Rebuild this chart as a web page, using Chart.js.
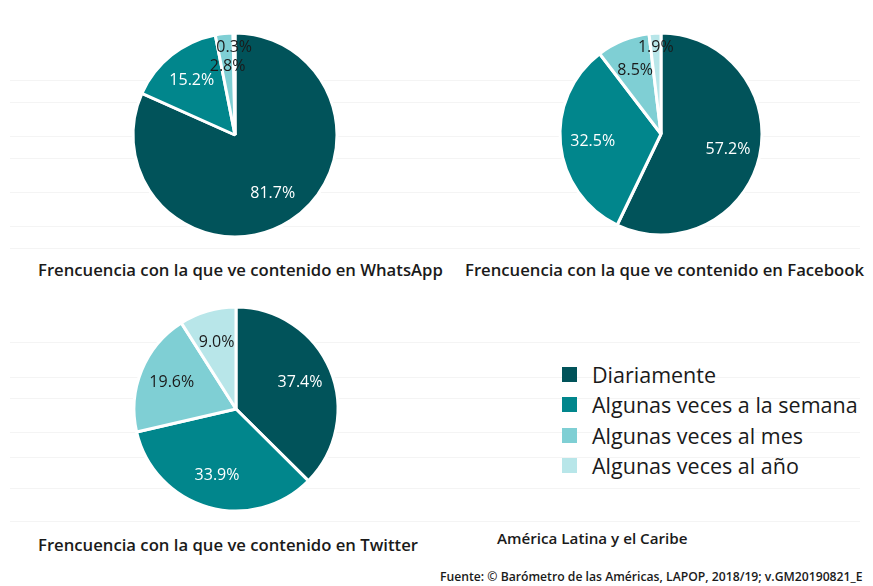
<!DOCTYPE html>
<html>
<head>
<meta charset="utf-8">
<script src="https://cdn.jsdelivr.net/npm/chart.js@4.4.1/dist/chart.umd.min.js"></script>
<style>
    body { margin:0; width:873px; height:586px; background:#fff; position:relative; overflow:hidden; font-family:"Open Sans", sans-serif; color:#1a1a1a; }
    .linea { position:absolute; left:10px; width:850px; height:1px; background:#f4f4f4; }
    .grafico { position:absolute; width:240px; height:240px; }
    .testo { position:absolute; white-space:nowrap; font-weight:600; }
    .didascalia { font-size:16.7px; line-height:20px; }
    #legenda { position:absolute; left:562px; top:359px; }
    .voce { height:30.5px; display:flex; align-items:center; font-size:21.5px; font-weight:500; }
    .quadrato { width:15px; height:15px; margin-right:15px; }
</style>
</head>
<body>
<div id="linee"></div>

<div class="grafico" style="left:115px; top:15px;"><canvas id="canvasWa" width="240" height="240"></canvas></div>
<div class="grafico" style="left:541px; top:14px;"><canvas id="canvasFb" width="240" height="240"></canvas></div>
<div class="grafico" style="left:116px; top:289px;"><canvas id="canvasTw" width="240" height="240"></canvas></div>

<div class="testo didascalia" style="left:38px; top:260px;">Frencuencia con la que ve contenido en WhatsApp</div>
<div class="testo didascalia" style="left:465px; top:260px;">Frencuencia con la que ve contenido en Facebook</div>
<div class="testo didascalia" style="left:38px; top:535px;">Frencuencia con la que ve contenido en Twitter</div>

<div id="legenda"></div>

<div class="testo" style="left:497px; top:528px; font-size:15.2px; line-height:20px;">América Latina y el Caribe</div>
<div class="testo" style="left:440px; top:568px; font-size:12.2px; line-height:18px;">Fuente: © Barómetro de las Américas, LAPOP, 2018/19; v.GM20190821_E</div>

<script>
// categorie e valori (%)
let categorie = ["Diariamente", "Algunas veces a la semana", "Algunas veces al mes", "Algunas veces al año"]
let whatsapp = [81.7, 15.2, 2.8, 0.3]
let facebook = [57.2, 32.5, 8.5, 1.9]
let twitter = [37.4, 33.9, 19.6, 9.0]

let colori = ["#01535a", "#01868c", "#7fcfd4", "#b8e6e9"]
let coloriTesto = ["#ffffff", "#ffffff", "#1a1a1a", "#1a1a1a"]

window.onload = ()=>{
    // righe di sfondo molto chiare
    let yLinee = [80, 102, 136, 158, 192, 226, 248, 342, 377, 398, 432, 457, 488, 521]
    let linee = document.getElementById("linee")
    for (let y of yLinee){
        let d = document.createElement("div")
        d.className = "linea"
        d.style.top = y + "px"
        linee.appendChild(d)
    }

    // legenda
    let legenda = document.getElementById("legenda")
    categorie.forEach((c, i) => {
        let voce = document.createElement("div")
        voce.className = "voce"
        voce.innerHTML = '<div class="quadrato" style="background:' + colori[i] + '"></div>' + c
        legenda.appendChild(voce)
    })

    disegnaTorta("canvasWa", whatsapp, 102)
    disegnaTorta("canvasFb", facebook, 101)
    disegnaTorta("canvasTw", twitter, 102)
}

// etichette percentuali dentro le fette
let etichette = {
    id: "etichette",
    afterDatasetsDraw(chart){
        let ctx = chart.ctx
        let meta = chart.getDatasetMeta(0)
        let valori = chart.data.datasets[0].data
        ctx.save()
        ctx.font = "500 16px 'Open Sans'"
        ctx.textAlign = "center"
        ctx.textBaseline = "middle"
        meta.data.forEach((arc, i) => {
            let mezzo = (arc.startAngle + arc.endAngle) / 2
            let dist = valori[i] < 2 ? arc.outerRadius * 0.86 : arc.outerRadius * 0.68
            ctx.fillStyle = coloriTesto[i]
            ctx.fillText(valori[i].toFixed(1) + "%", arc.x + Math.cos(mezzo) * dist, arc.y + Math.sin(mezzo) * dist)
        })
        ctx.restore()
    }
}

function disegnaTorta(id, valori, raggio){
    let canvas = document.getElementById(id)
    new Chart(canvas, {
        type: "pie",
        data: {
            labels: categorie,
            datasets: [{
                data: valori,
                backgroundColor: colori,
                borderColor: "#ffffff",
                borderWidth: 3
            }]
        },
        options: {
            responsive: false,
            animation: false,
            radius: raggio,
            layout: { padding: 0 },
            plugins: {
                legend: { display: false },
                tooltip: { enabled: false }
            }
        },
        plugins: [etichette]
    })
}
</script>
</body>
</html>
